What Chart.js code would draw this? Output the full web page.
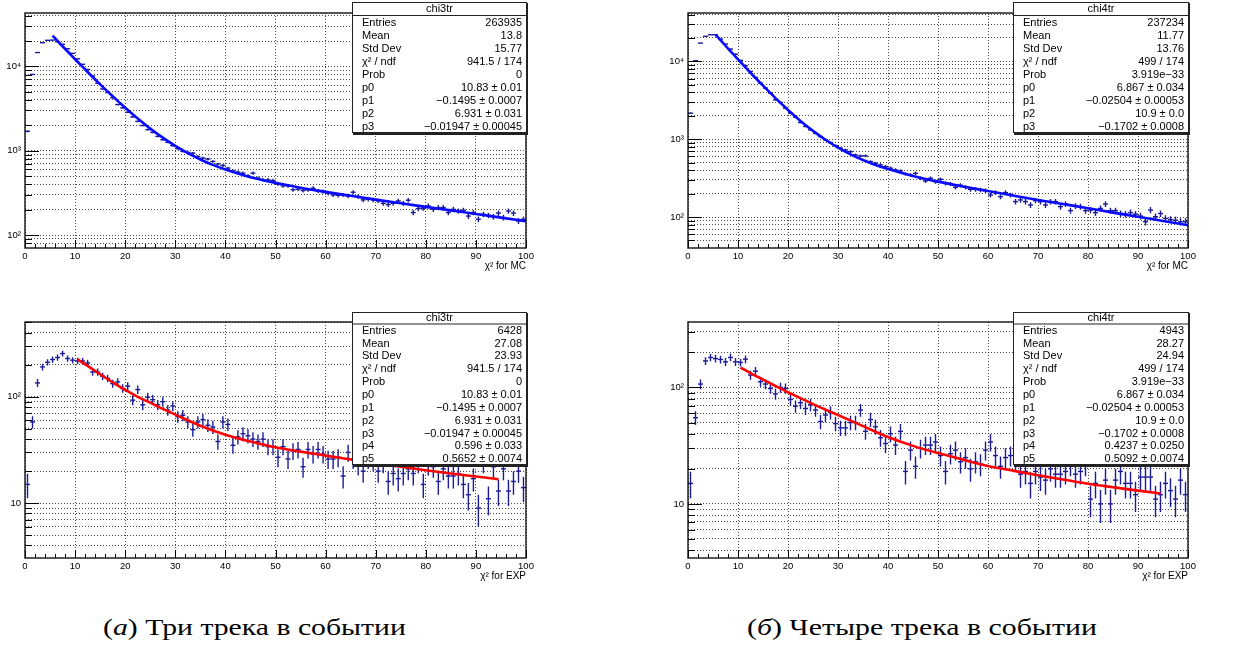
<!DOCTYPE html>
<html><head><meta charset="utf-8">
<script src="https://cdn.jsdelivr.net/npm/chart.js@4.4.1/dist/chart.umd.min.js"></script>
<style>
html,body{margin:0;padding:0;background:#fff;width:1259px;height:655px;overflow:hidden}
body{position:relative}
canvas{position:absolute}
.cap{position:absolute;font-family:"Liberation Serif","DejaVu Serif",serif;font-size:23px;color:#000;white-space:nowrap;line-height:26px;transform-origin:0 50%}
</style></head><body>
<canvas id="c1"></canvas><canvas id="c2"></canvas><canvas id="c3"></canvas><canvas id="c4"></canvas>
<div class="cap" id="cap1" style="left:103px;top:615px">(<i>а</i>) Три трека в событии</div>
<div class="cap" id="cap2" style="left:747px;top:615px">(<i>б</i>) Четыре трека в событии</div>
<script>
const FONT = '"Liberation Sans", Arial, Helvetica, sans-serif';

// histogram bin centres (100 bins of width 1 on 0..100)
const binCenters = [];
for (let i = 0; i < 100; i++) binCenters.push(i + 0.5);

// ---- MC, 3 tracks (chi3tr) ----
const mc3 = [1700,8030,14600,19100,20400,20500,19600,18300,16200,14300,
 12300,10600,9200,7700,6300,5400,4900,4250,3530,3220,
 2860,2520,2230,1990,1780,1650,1480,1350,1260,1150,
 1060,982,955,938,855,818,796,746,695,669,
 622,578,558,542,504,542,473,452,452,443,
 401,383,383,344,350,337,344,359,334,328,
 313,299,296,299,291,322,286,261,266,261,
 254,238,230,238,254,238,259,185,206,208,
 221,202,212,212,185,202,193,197,168,185,
 154,176,171,165,182,161,193,182,147,154];
const fitMcX = [5.5,6.5,7.5,8.75,10,11.25,12.5,13.75,15,16.25,17.5,18.75,20,22.5,25,27.5,30,32.5,35,37.5,40,45,50,55,60,65,70,75,80,85,90,95,100];
const fit3mcY = [23160,20030,17340,14530,12160,10220,8590,7240,6130,5200,4420,3775,3230,2410,1830,1430,1140,936,788,679,598,486,416,364,325,292,263,238,216,196,178,161,146];

// ---- MC, 4 tracks (chi4tr) ----
const mc4 = [2160,10200,17200,21000,22000,22000,19400,16700,14400,12400,
 10300,8790,7430,6220,5260,4540,3910,3210,2970,2510,
 2160,1920,1640,1460,1320,1190,1080,980,906,828,
 765,729,693,628,610,610,515,491,468,445,
 424,403,391,358,348,365,315,291,315,285,
 305,271,266,241,256,241,227,227,223,218,
 192,206,183,206,192,158,166,158,143,163,
 158,143,158,158,136,147,121,139,136,121,
 123,114,129,147,121,121,111,109,114,109,
 103,87,123,101,111,96,93,91,87,87];
const fit4mcY = [22090,18750,15900,12990,10620,8710,7150,5900,4880,4050,3375,2830,2380,1720,1280,985,781,640,540,467,413,337,285,247,216,189,166,147,130,114,101,89,78.5];

// ---- EXP, 3 tracks ----
const exp3 = [15,58,135,191,211,224,234,255,229,221,
 218,217,208,171,171,156,149,133,138,120,
 126,93,117,84,99,94,84,90,75,82,
 65,67,58,49,58,61,54,52,38,58,
 55,35,42,45,43,40,38,40,34,34,
 27,34,26,31,32,22,32,29,32,29,
 26,26,27,18,30,26,23,20,26,25,
 20,24,16,19,17,19,21,19,24,15,
 23,22,16,21,18,18,19,15,12,17,
 9,24,11,22,13,21,13,16,20,14];
const fitExpX = [10.5,12.5,15,17.5,20,22.5,25,27.5,30,35,40,45,50,55,60,65,70,75,80,85,90,94.5];
const fit3expY = [225,195,163,137,116,100,88,77,68,53.5,44,38,33.5,30.5,28,25.8,23.8,22,20.4,19,17.8,16.8];

// ---- EXP, 4 tracks ----
const exp4 = [15,55,107,169,181,177,174,166,181,166,
 164,175,128,138,112,107,98,88,100,98,
 79,69,74,66,71,64,51,58,61,49,
 45,45,50,50,64,42,53,46,37,33,
 40,32,42,19,29,21,30,32,32,34,
 26,19,27,29,23,25,20,23,22,29,
 34,26,21,25,26,24,18,19,15,19,
 17,16,20,18,18,19,22,18,19,22,
 11,15,10,16,10,16,19,15,15,12,
 17,17,17,11,12,15,13,11,16,12];
const fit4expY = [148,133,117,103,91,81,72,64.5,58,46.5,37.5,31.5,27.3,24,21.2,19.3,17.6,16.2,14.9,13.9,13,12.3];

// tick labels
const topMajor = [100,1000,10000], topMajorLabels = ['10²','10³','10⁴'];
const botMajor = [10,100], botMajorLabels = ['10','10²'];

// stat boxes
const stat3mc = [['Entries','263935'],['Mean','13.8'],['Std Dev','15.77'],['χ² / ndf','941.5 / 174'],['Prob','0'],
 ['p0','10.83 ± 0.01'],['p1','−0.1495 ± 0.0007'],['p2','6.931 ± 0.031'],['p3','−0.01947 ± 0.00045']];
const stat4mc = [['Entries','237234'],['Mean','11.77'],['Std Dev','13.76'],['χ² / ndf','499 / 174'],['Prob','3.919e−33'],
 ['p0','6.867 ± 0.034'],['p1','−0.02504 ± 0.00053'],['p2','10.9 ± 0.0'],['p3','−0.1702 ± 0.0008']];
const stat3exp = [['Entries','6428'],['Mean','27.08'],['Std Dev','23.93'],['χ² / ndf','941.5 / 174'],['Prob','0'],
 ['p0','10.83 ± 0.01'],['p1','−0.1495 ± 0.0007'],['p2','6.931 ± 0.031'],['p3','−0.01947 ± 0.00045'],['p4','0.596 ± 0.033'],['p5','0.5652 ± 0.0074']];
const stat4exp = [['Entries','4943'],['Mean','28.27'],['Std Dev','24.94'],['χ² / ndf','499 / 174'],['Prob','3.919e−33'],
 ['p0','6.867 ± 0.034'],['p1','−0.02504 ± 0.00053'],['p2','10.9 ± 0.0'],['p3','−0.1702 ± 0.0008'],['p4','0.4237 ± 0.0250'],['p5','0.5092 ± 0.0074']];

function logGrid(min, max) {
  const out = [];
  for (let e = 0; e < 6; e++) for (let m = 1; m < 10; m++) {
    const v = m * Math.pow(10, e);
    if (v > min * 1.0001 && v < max * 0.9999) out.push(v);
  }
  return out;
}

const panels = [
 {id:'c1', cv:{x:0,y:0,w:640,h:300}, fr:{l:25,t:13,r:526,b:248}, ymin:70.2, ymax:43000,
  counts:mc3, fitX:fitMcX, fitY:fit3mcY, fitColor:'#0a0aff', xtitle:'χ² for MC',
  major:topMajor, majorLabels:topMajorLabels,
  stat:{l:352,t:2,r:527,b:133,title:'chi3tr',titleY:8.8,sepY:15,row0:22.7,dy:13.0,rows:stat3mc}},
 {id:'c2', cv:{x:640,y:0,w:619,h:300}, fr:{l:688,t:13,r:1188,b:248}, ymin:40, ymax:41900,
  counts:mc4, fitX:fitMcX, fitY:fit4mcY, fitColor:'#0a0aff', xtitle:'χ² for MC',
  major:topMajor, majorLabels:topMajorLabels,
  stat:{l:1013,t:2,r:1189,b:133,title:'chi4tr',titleY:8.8,sepY:15,row0:22.7,dy:13.0,rows:stat4mc}},
 {id:'c3', cv:{x:0,y:300,w:640,h:300}, fr:{l:25,t:322,r:526,b:558}, ymin:3.05, ymax:505,
  counts:exp3, fitX:fitExpX, fitY:fit3expY, fitColor:'#ff0000', xtitle:'χ² for EXP',
  major:botMajor, majorLabels:botMajorLabels,
  stat:{l:352,t:312,r:527,b:465,title:'chi3tr',titleY:317.6,sepY:323.5,row0:330.7,dy:12.86,rows:stat3exp}},
 {id:'c4', cv:{x:640,y:300,w:619,h:300}, fr:{l:688,t:322,r:1188,b:558}, ymin:3.43, ymax:365,
  counts:exp4, fitX:fitExpX, fitY:fit4expY, fitColor:'#ff0000', xtitle:'χ² for EXP',
  major:botMajor, majorLabels:botMajorLabels,
  stat:{l:1013,t:312,r:1189,b:465,title:'chi4tr',titleY:317.6,sepY:323.5,row0:330.7,dy:12.86,rows:stat4exp}}
];

const GRID = 'rgba(30,30,30,0.8)';
const PTCOL = '#1c1c9a';
const XH = 30;

function drawStat(ctx, s, ox, oy) {
  const l = s.l - ox, t = s.t - oy, r = s.r - ox, b = s.b - oy;
  ctx.save();
  ctx.fillStyle = '#222';
  ctx.fillRect(l + 1, t + 1, r - l, b - t + 1);
  ctx.fillStyle = '#fff';
  ctx.fillRect(l, t, r - l, b - t);
  ctx.strokeStyle = '#222'; ctx.lineWidth = 1;
  ctx.strokeRect(l + 0.5, t + 0.5, r - l - 1, b - t - 1);
  ctx.beginPath(); ctx.moveTo(l, s.sepY - oy + 0.5); ctx.lineTo(r, s.sepY - oy + 0.5); ctx.stroke();
  ctx.fillStyle = '#000';
  ctx.font = '11px ' + FONT;
  ctx.textBaseline = 'middle';
  ctx.textAlign = 'center';
  ctx.fillText(s.title, (l + r) / 2, s.titleY - oy);
  s.rows.forEach((row, k) => {
    const y = s.row0 - oy + k * s.dy;
    ctx.textAlign = 'left'; ctx.fillText(row[0], l + 10, y);
    ctx.textAlign = 'right'; ctx.fillText(row[1], r - 5, y);
  });
  ctx.restore();
}

function makePlugin(p) {
  return {
    id: 'rootStyle',
    afterDatasetDraw(chart, args) {
      const ds = chart.data.datasets[args.index];
      if (!ds.isHist) return;
      const {ctx, chartArea: a, scales: {y}} = chart;
      ctx.save();
      ctx.beginPath(); ctx.rect(a.left, a.top, a.right - a.left, a.bottom - a.top); ctx.clip();
      ctx.strokeStyle = PTCOL; ctx.lineWidth = 1.4;
      ctx.beginPath();
      args.meta.data.forEach((pt, i) => {
        const v = ds.data[i].y, e = Math.sqrt(v);
        const y1 = y.getPixelForValue(v + e);
        const y0 = y.getPixelForValue(Math.max(v - e, 0.01));
        ctx.moveTo(pt.x, y0); ctx.lineTo(pt.x, y1);
      });
      ctx.stroke();
      ctx.restore();
    },
    afterDraw(chart) {
      const {ctx, chartArea: a, scales: {x, y}} = chart;
      ctx.save();
      ctx.strokeStyle = '#000'; ctx.lineWidth = 1;
      ctx.beginPath();
      y.ticks.forEach(t => {
        const py = Math.round(y.getPixelForValue(t.value)) + 0.5;
        const len = p.major.includes(t.value) ? 14 : 7;
        ctx.moveTo(a.left, py); ctx.lineTo(a.left + len, py);
      });
      for (let v = 0; v <= 100; v += 2) {
        const px = Math.round(x.getPixelForValue(v)) + 0.5;
        const len = v % 10 === 0 ? 8 : 4;
        ctx.moveTo(px, a.bottom); ctx.lineTo(px, a.bottom - len);
      }
      ctx.stroke();
      ctx.strokeStyle = '#111'; ctx.lineWidth = 1.4;
      ctx.strokeRect(a.left, a.top, a.right - a.left, a.bottom - a.top);
      ctx.restore();
      drawStat(ctx, p.stat, p.cv.x, p.cv.y);
    }
  };
}

panels.forEach(p => {
  const cv = document.getElementById(p.id);
  cv.width = p.cv.w; cv.height = p.cv.h;
  cv.style.left = p.cv.x + 'px'; cv.style.top = p.cv.y + 'px';
  cv.style.width = p.cv.w + 'px'; cv.style.height = p.cv.h + 'px';
  const yTicks = logGrid(p.ymin, p.ymax);
  const hist = p.counts.map((v, i) => ({x: binCenters[i], y: v}));
  const fit = p.fitX.map((xv, i) => ({x: xv, y: p.fitY[i]}));
  const binPx = (p.fr.r - p.fr.l) / 100;
  new Chart(cv, {
    type: 'scatter',
    data: {datasets: [
      {type: 'line', data: fit, borderColor: p.fitColor, borderWidth: 2.6, pointRadius: 0,
       cubicInterpolationMode: 'monotone', fill: false},
      {type: 'scatter', isHist: true, data: hist, pointStyle: 'line', pointRadius: binPx / 2,
       borderColor: PTCOL, backgroundColor: PTCOL, borderWidth: 1.4, pointHoverRadius: binPx / 2}
    ]},
    options: {
      responsive: false, animation: false, events: [],
      layout: {padding: {left: 0, top: p.fr.t - p.cv.y, right: p.cv.x + p.cv.w - p.fr.r,
                         bottom: p.cv.y + p.cv.h - p.fr.b - XH}},
      plugins: {legend: {display: false}, tooltip: {enabled: false}},
      scales: {
        x: {type: 'linear', min: 0, max: 100, position: 'bottom',
            afterFit: s => { s.height = XH; },
            ticks: {stepSize: 10, autoSkip: false, maxRotation: 0, padding: 3, color: '#000',
                    font: {family: FONT, size: 9.5}},
            grid: {color: GRID, lineWidth: 1, drawTicks: false},
            border: {display: false, dash: [1, 2]},
            title: {display: true, text: p.xtitle, align: 'end', color: '#000',
                    font: {family: FONT, size: 10}, padding: {top: 0, bottom: 6}}},
        y: {type: 'logarithmic', min: p.ymin, max: p.ymax, position: 'left',
            afterFit: s => { s.width = p.fr.l - p.cv.x; },
            afterBuildTicks: s => { s.ticks = yTicks.map(v => ({value: v, major: p.major.includes(v)})); },
            ticks: {autoSkip: false, padding: 4, color: '#000', font: {family: FONT, size: 9.5},
                    callback: v => { const k = p.major.indexOf(v); return k >= 0 ? p.majorLabels[k] : ''; }},
            grid: {color: GRID, lineWidth: 1, drawTicks: false},
            border: {display: false, dash: [1, 2]}}
      }
    },
    plugins: [makePlugin(p)]
  });
});

// stretch the captions to their widths in the reference
[['cap1', 303], ['cap2', 350]].forEach(([id, w]) => {
  const el = document.getElementById(id);
  const cw = el.getBoundingClientRect().width;
  el.style.transform = 'scaleX(' + (w / cw).toFixed(3) + ')';
});
</script>
</body></html>
